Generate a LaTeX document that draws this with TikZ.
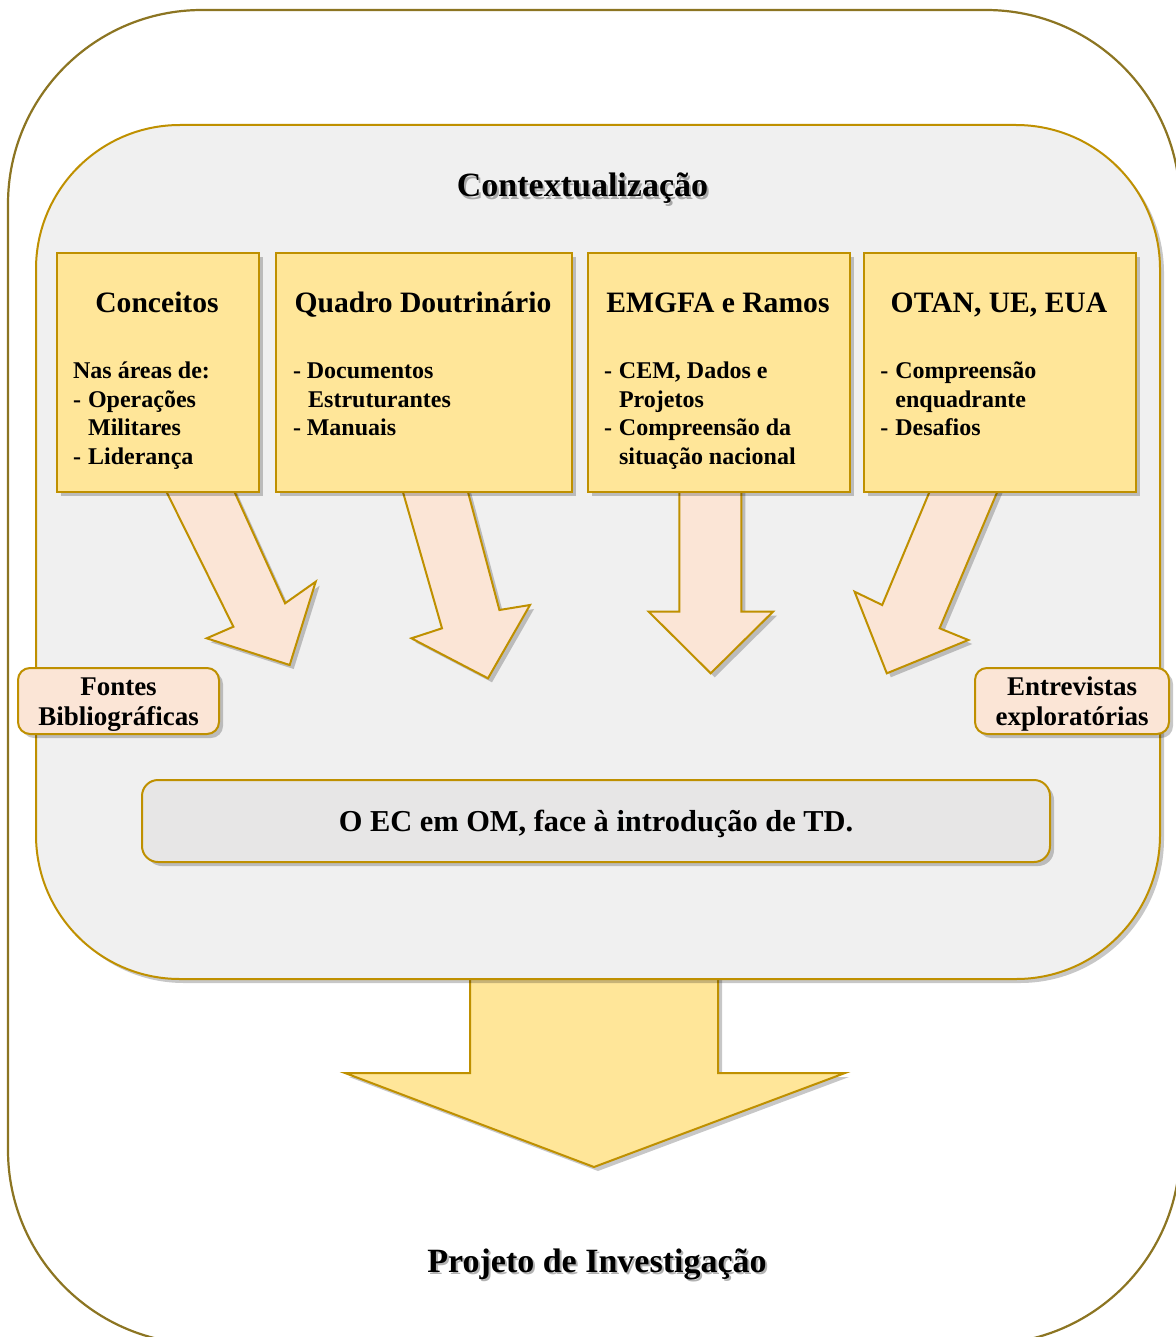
\documentclass[tikz,border=0pt]{standalone}
\usepackage{fontspec}
\setmainfont{Liberation Serif}
\usetikzlibrary{shadows}
\definecolor{gold}{HTML}{BF9000}
\definecolor{olivel}{HTML}{8C7522}
\definecolor{yel}{HTML}{FFE699}
\definecolor{pinkf}{HTML}{FBE5D6}
\definecolor{innerg}{HTML}{F0F0F0}
\definecolor{oecg}{HTML}{E7E6E6}
\newcommand{\dl}{\makebox[7.5pt][l]{-}}
\newcommand{\ind}{\hspace*{7.5pt}}
\tikzset{
  shd/.style={drop shadow={shadow xshift=2pt,shadow yshift=-2pt,opacity=0.22,fill=black}},
  ybox/.style={draw=gold,fill=yel,line width=1pt,anchor=north west,inner sep=0pt,shd},
  pbox/.style={draw=gold,fill=pinkf,line width=1pt,rounded corners=6pt,inner sep=0pt,shd},
  ptxt/.style={anchor=north,inner sep=0pt,align=center,font=\bfseries\fontsize{13.5}{15}\selectfont},
  parrow/.style={draw=gold,fill=pinkf,line width=1pt,line join=miter,shd},
  yarrow/.style={draw=gold,fill=yel,line width=1pt,line join=miter,shd},
  ttl/.style={anchor=base,inner sep=0pt,font=\bfseries\fontsize{14.8}{17}\selectfont},
  bodytxt/.style={anchor=north west,inner sep=0pt,align=left,font=\bfseries\fontsize{12}{14.35}\selectfont},
  bigttl/.style={anchor=base,inner sep=0pt,font=\bfseries\fontsize{17}{20}\selectfont},
  bigshd/.style={bigttl,text=black,opacity=0.3},
}
\begin{document}
\begin{tikzpicture}[x=0.5pt,y=-0.5pt]
\clip (0,0) rectangle (1176,1337);
\fill[white] (0,0) rectangle (1176,1337);
% outer frame
\draw[olivel,line width=1.1pt,rounded corners=97pt] (8,10) rectangle (1180,1344);
% big yellow arrow
\draw[yarrow] (470,975) -- (470,1073) -- (345,1073) -- (594,1167) -- (845,1073) -- (718,1073) -- (718,975);
% inner box
\draw[draw=gold,fill=innerg,line width=1pt,rounded corners=72pt,shd] (36,125) rectangle (1160,979);
% title
\node[bigshd] (ctxs) at (584.5,199) {Contextualização};
\node[bigttl] (ctx) at (582.5,197) {Contextualização};
% pink arrows
\draw[parrow] (164.6,488) -- (233.4,626.7) -- (206.7,638.3) -- (289.7,665) -- (315.7,581.7) -- (285.1,603.3) -- (232.7,488) -- cycle;
\draw[parrow] (401.8,488) -- (442,628.3) -- (411.4,638.3) -- (488,678.3) -- (530,605) -- (499.4,610) -- (466.9,488) -- cycle;
\draw[parrow] (679.3,488) -- (679.3,611.7) -- (648.7,611.7) -- (710.7,673.3) -- (773,611.7) -- (741.3,611.7) -- (741.3,488) -- cycle;
\draw[parrow] (931.1,488) -- (882.2,605) -- (854.6,591.7) -- (886.8,673.3) -- (968.3,640) -- (939.6,628.3) -- (998.9,488) -- cycle;
% four boxes
\node[ybox,minimum width=101pt,minimum height=119.5pt] (b1) at (56,252) {};
\node[ybox,minimum width=148pt,minimum height=119.5pt] (b2) at (275,252) {};
\node[ybox,minimum width=131pt,minimum height=119.5pt] (b3) at (587,252) {};
\node[ybox,minimum width=136pt,minimum height=119.5pt] (b4) at (863,252) {};
\node[ttl] (t1) at (157,312) {Conceitos};
\node[ttl] (t2) at (423,312) {Quadro Doutrinário};
\node[ttl] (t3) at (718,312) {EMGFA e Ramos};
\node[ttl] (t4) at (999,312) {OTAN, UE, EUA};
\node[bodytxt] (x1) at (72.7,358) {\rule{0pt}{10pt}Nas áreas de:\\\dl Operações\\\ind Militares\\\dl Liderança};
\node[bodytxt] (x2) at (292.8,358) {\rule{0pt}{10pt}\makebox[6.8pt][l]{-}Documentos\\\hspace*{7.5pt}Estruturantes\\\makebox[6.8pt][l]{-}Manuais};
\node[bodytxt] (x3) at (603.6,358) {\rule{0pt}{10pt}\dl CEM, Dados e\\\ind Projetos\\\dl Compreensão da\\\ind situação nacional};
\node[bodytxt] (x4) at (880,358) {\rule{0pt}{10pt}\dl Compreensão\\\ind enquadrante\\\dl Desafios};
% side boxes
\node[pbox,minimum width=100.5pt,minimum height=33pt] (fb) at (118.5,701) {};
\node[ptxt] (fbt) at (118.5,675) {\rule{0pt}{10pt}Fontes\\Bibliográficas};
\node[pbox,minimum width=97pt,minimum height=33pt] (ee) at (1072,701) {};
\node[ptxt] (eet) at (1072,675) {\rule{0pt}{10pt}Entrevistas\\exploratórias};
% central statement
\node[draw=gold,fill=oecg,line width=1pt,rounded corners=8pt,minimum width=454pt,minimum height=41pt,inner sep=0pt,shd] (oec) at (596,821) {};
\node[anchor=base,inner sep=0pt,font=\bfseries\fontsize{15.2}{18}\selectfont] (oect) at (596,831) {O EC em OM, face à introdução de TD.};
% bottom title
\node[bigshd] (pis) at (599,1274) {Projeto de Investigação};
\node[bigttl] (pi) at (597,1272) {Projeto de Investigação};
\end{tikzpicture}
\end{document}
